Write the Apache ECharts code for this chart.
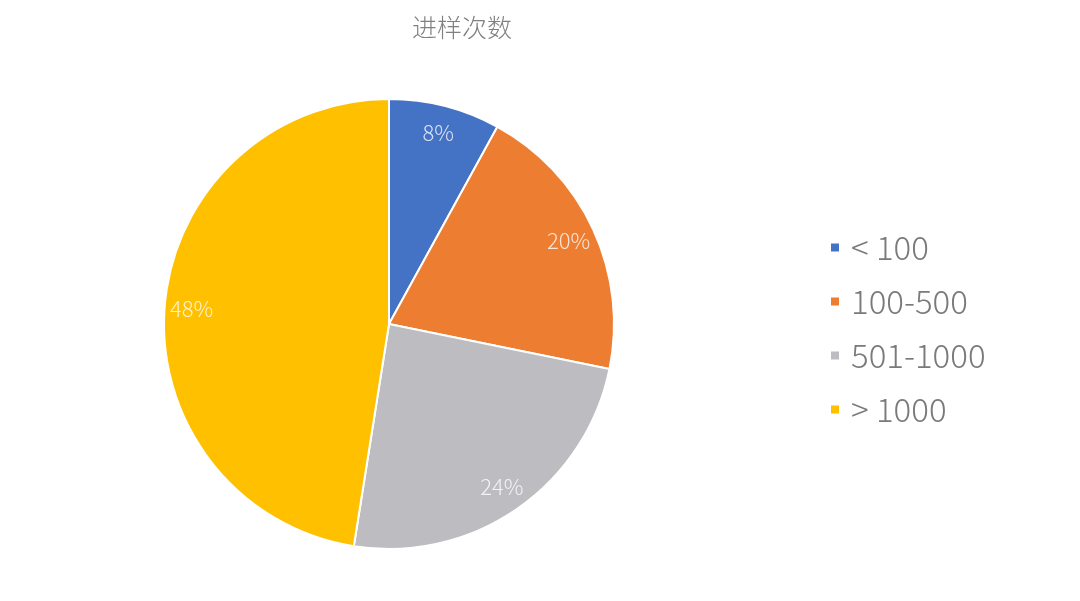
<!DOCTYPE html>
<html><head><meta charset="utf-8">
<script src="https://cdn.jsdelivr.net/npm/echarts@6/dist/echarts.min.js"></script>
<style>html,body{margin:0;padding:0;background:#fff}#c{width:1080px;height:601px}</style>
</head><body><div id="c"></div>
<script>
const categories = ['< 100', '100-500', '501-1000', '> 1000'];
const values = [8.0, 20.2, 24.3, 47.5];
const colors = ['#4472C4', '#ED7D31', '#BDBCC1', '#FFC000'];
const title = '进样次数';

const chart = echarts.init(document.getElementById('c'));
const font = '"Noto Sans CJK SC", "Microsoft YaHei", sans-serif';
const data = categories.map((n, i) => ({ name: n, value: values[i], itemStyle: { color: colors[i] } }));
chart.setOption({
  animation: false,
  title: { text: title, left: 457, top: 10, textAlign: 'center',
    textStyle: { fontFamily: font, fontSize: 25, fontWeight: 300, color: '#808080' } },
  legend: {
    orient: 'vertical', left: 824, top: 226, itemWidth: 10, itemHeight: 10, itemGap: 21,
    icon: 'rect', data: categories,
    textStyle: { fontFamily: font, fontSize: 33, fontWeight: 300, color: '#7a7a7a', lineHeight: 33, padding: [0, 0, 0, 6] }
  },
  series: [
    {
      type: 'pie', center: [389, 324], radius: [0, 225], startAngle: 90, clockwise: true,
      data: data, label: { show: false }, labelLine: { show: false },
      itemStyle: { borderColor: '#fff', borderWidth: 2 }, emphasis: { disabled: true }
    },
    {
      type: 'pie', center: [389, 324], radius: [170, 220], startAngle: 90, clockwise: true, silent: true,
      percentPrecision: 0,
      data: categories.map((n, i) => ({ name: n, value: values[i], itemStyle: { color: 'rgba(0,0,0,0)' } })),
      label: { show: true, position: 'inside', formatter: '{d}%', fontFamily: font, fontSize: 22, fontWeight: 300,
        color: 'rgba(255,255,255,0.8)' },
      labelLine: { show: false }, emphasis: { disabled: true }
    }
  ]
});
</script></body></html>
